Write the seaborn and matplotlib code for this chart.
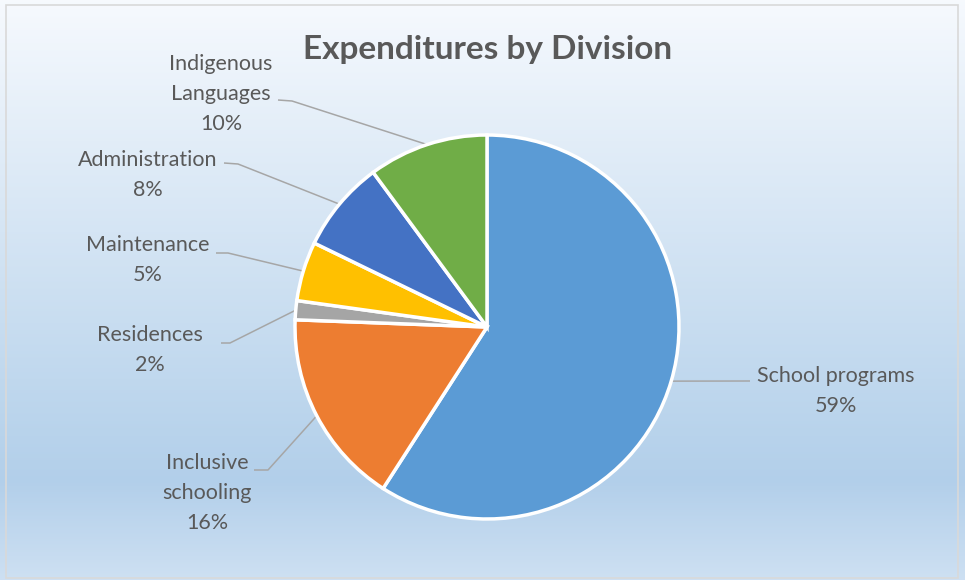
import numpy as np
import matplotlib
matplotlib.use("Agg")
import matplotlib.pyplot as plt
from matplotlib.colors import LinearSegmentedColormap
from matplotlib.patches import Rectangle
import seaborn as sns

divisions = ["School programs", "Inclusive\nschooling", "Residences",
             "Maintenance", "Administration", "Indigenous\nLanguages"]
shares = [59.1, 16.5, 1.6, 5.0, 7.7, 10.1]
pct_labels = ["59%", "16%", "2%", "5%", "8%", "10%"]
colors = ["#5B9BD5", "#ED7D31", "#A5A5A5", "#FFC000", "#4472C4", "#70AD47"]

# label centre (px, from top-left) and elbow of the leader line
label_pos = [(836, 391), (207, 493), (150, 350), (148, 260), (148, 175), (221, 94)]
elbows = [[(750, 381)], [(254, 470), (268, 470)], [(221, 343), (230, 343)],
          [(216, 253), (228, 253)], [(224, 163), (238, 164)], [(278, 100), (292, 101)]]

sns.set_theme(style="white")
plt.rcParams['font.family'] = ['Lato', 'DejaVu Sans']

W, H = 965, 580
fig = plt.figure(figsize=(W / 100, H / 100), dpi=100)

# gradient background
bg = fig.add_axes([0, 0, 1, 1])
cmap = LinearSegmentedColormap.from_list("bg", [
    (0.0, (0.965, 0.978, 0.995)),
    (0.74, (0.725, 0.830, 0.925)),
    (0.83, (0.700, 0.812, 0.918)),
    (1.0, (0.805, 0.878, 0.950))])
bg.imshow(np.linspace(0, 1, 256).reshape(-1, 1), aspect="auto", cmap=cmap,
          extent=[0, 1, 0, 1], origin="upper")
bg.set_xlim(0, 1)
bg.set_ylim(0, 1)
bg.axis("off")
fig.patches.append(Rectangle((6 / W, 2 / H), 952 / W, 573 / H, transform=fig.transFigure,
                             fill=False, edgecolor="#d9d9d9", linewidth=1.2))

ax = fig.add_axes([0, 0, 1, 1])
ax.patch.set_alpha(0)
cx, cy, r = 487, H - 327, 192
wedges, _ = ax.pie(shares, colors=colors, startangle=90, counterclock=False,
                   center=(cx, cy), radius=r,
                   wedgeprops=dict(edgecolor="white", linewidth=2.5))
ax.set_xlim(0, W)
ax.set_ylim(0, H)
ax.set_aspect("equal")
ax.axis("off")

txt_color = "#595959"
for w, name, pct, (lx, ly), el in zip(wedges, divisions, pct_labels, label_pos, elbows):
    ang = np.deg2rad((w.theta1 + w.theta2) / 2)
    ex, ey = cx + r * np.cos(ang), cy + r * np.sin(ang)
    pts = [(x, H - y) for x, y in el] + [(ex, ey)]
    ax.plot([p[0] for p in pts], [p[1] for p in pts], color="#a6a6a6", lw=1.1,
            solid_capstyle="butt", zorder=0.5)
    ax.text(lx, H - ly, name + "\n" + pct, ha="center", va="center",
            fontsize=15.5, color=txt_color, linespacing=1.65)

ax.text(488, H - 50, "Expenditures by Division", ha="center", va="center",
        fontsize=24, fontweight="bold", color=txt_color)

fig.savefig("out.png", dpi=100)
